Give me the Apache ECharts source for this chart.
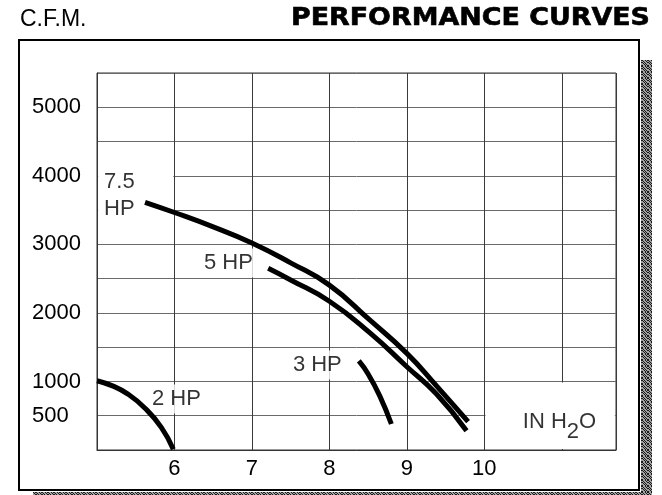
<!DOCTYPE html>
<html>
<head>
<meta charset="utf-8">
<script src="https://cdn.jsdelivr.net/npm/echarts@6/dist/echarts.min.js"></script>
<style>html,body{margin:0;padding:0;background:#fff}#chart{width:662px;height:495px}</style>
</head>
<body>
<div id="chart"></div>
<script>
// tick labels shown on the axes
var xTicks=[6,7,8,9,10]
var yTicks=[500,1000,2000,3000,4000,5000]

// curves, [in H2O, cfm]
var hp75=[[5.62,3614],[6.0,3465],[6.5,3255],[7.0,3020],[7.5,2730],[8.0,2405],[8.52,1897],[9.0,1410],[9.38,940],[9.79,413]]
var hp5=[[7.21,2650],[7.5,2480],[8.0,2170],[8.52,1712],[9.0,1215],[9.38,820],[9.77,282]]
var hp3=[[8.38,1299],[8.5,1110],[8.65,790],[8.80,379]]
var hp2=[[5.0,1011],[5.2,935],[5.4,815],[5.62,610],[5.83,330],[5.985,10]]

// curve names and where they sit
var curveLabels=[["7.5\nHP",5.052,3720],["5 HP",6.342,2728],["3 HP",7.49,1240],["2 HP",5.671,744]]
var unitLabel=["{a|IN H}{s|2}{a|O}",10.497,416]
// grid cells that are left blank behind text
var blankCells=[[[5,3000],[6,4500]],[[10,0],[11.7,1000]]]

var FONT='Liberation Sans, Arial, sans-serif'

// grey speckle for the drop shadow
var pc=document.createElement('canvas')
pc.width=6;pc.height=6
var g=pc.getContext('2d')
g.fillStyle='#a0a0a0';g.fillRect(0,0,6,6)
g.fillStyle='#1a1a1a'
for(var i=0;i<6;i++){for(var j=0;j<6;j++){if((i*2+j*3)%5<2)g.fillRect(i,j,1,1)}}

var mychart=echarts.init(document.getElementById('chart'),null,{renderer:'canvas'})

function curve(name,data){
    return {
        name:name,type:'line',data:data,smooth:true,showSymbol:false,z:3,
        lineStyle:{color:'#000',width:5,cap:'butt'},silent:true
    }
}

var option={
    animation:false,
    backgroundColor:'#fff',
    graphic:[
        {type:'rect',shape:{x:641,y:60,width:11,height:435},style:{fill:{image:pc,repeat:'repeat'}},silent:true},
        {type:'rect',shape:{x:33,y:492,width:619,height:3},style:{fill:{image:pc,repeat:'repeat'}},silent:true},
        {type:'rect',shape:{x:19,y:40,width:620,height:450},style:{fill:'transparent',stroke:'#000',lineWidth:2},silent:true},
        {type:'text',x:20,y:20,style:{text:'C.F.M.',font:'23px '+FONT,fill:'#000',align:'left',verticalAlign:'middle',textAlign:'left',textVerticalAlign:'middle'}},
        {type:'text',x:291,y:19,scaleX:1.12,style:{text:'PERFORMANCE CURVES',font:'900 24px DejaVu Sans',fill:'#000',stroke:'#000',lineWidth:0.6,align:'left',verticalAlign:'middle',textAlign:'left',textVerticalAlign:'middle'}}
    ],
    grid:{left:97,top:73,right:46,bottom:45,show:true,borderColor:'#333',borderWidth:1},
    xAxis:{
        type:'value',min:5,max:11.7,interval:1,
        axisLine:{show:true,lineStyle:{color:'#333',width:1}},
        axisTick:{show:false},
        splitLine:{show:true,lineStyle:{color:'#3a3a3a',width:1}},
        axisLabel:{margin:8,fontSize:22,color:'#000',fontFamily:FONT,
            formatter:function(v){return xTicks.indexOf(v)>=0?String(v):''}}
    },
    yAxis:{
        type:'value',min:0,max:5500,interval:500,
        axisLine:{show:true,lineStyle:{color:'#333',width:1}},
        axisTick:{show:false},
        splitLine:{show:true,lineStyle:{color:'#6a6a6a',width:1}},
        axisLabel:{align:'left',margin:65,fontSize:22,color:'#000',fontFamily:FONT,
            formatter:function(v){return yTicks.indexOf(v)>=0?String(v):''}}
    },
    series:[
        {
            type:'line',data:[],z:1,silent:true,
            markArea:{silent:true,itemStyle:{color:'#fff'},
                data:blankCells.map(function(c){
                    return [{coord:[c[0][0]+0.015,c[0][1]+15]},{coord:[c[1][0]-0.015,c[1][1]-15]}]
                })}
        },
        {
            type:'scatter',symbolSize:0,z:2,silent:true,
            data:curveLabels.map(function(l){
                return {name:l[0],value:[l[1],l[2]],
                    label:{lineHeight:l[0].indexOf('\n')>=0?27:22}}
            }),
            label:{show:true,position:'right',distance:0,formatter:'{b}',fontSize:22,
                fontFamily:FONT,color:'#000',backgroundColor:'#fff',padding:[4,3,3,3]}
        },
        {
            type:'scatter',symbolSize:0,z:2,silent:true,
            data:[{name:unitLabel[0],value:[unitLabel[1],unitLabel[2]]}],
            label:{show:true,position:'right',distance:0,formatter:'{b}',
                rich:{
                    a:{fontSize:22,lineHeight:22,fontFamily:FONT,color:'#000'},
                    s:{fontSize:22,lineHeight:22,fontFamily:FONT,color:'#000',padding:[20,0,0,0]}
                }}
        },
        curve('7.5 HP',hp75),
        curve('5 HP',hp5),
        curve('3 HP',hp3),
        curve('2 HP',hp2)
    ]
}
mychart.setOption(option)
</script>
</body>
</html>
